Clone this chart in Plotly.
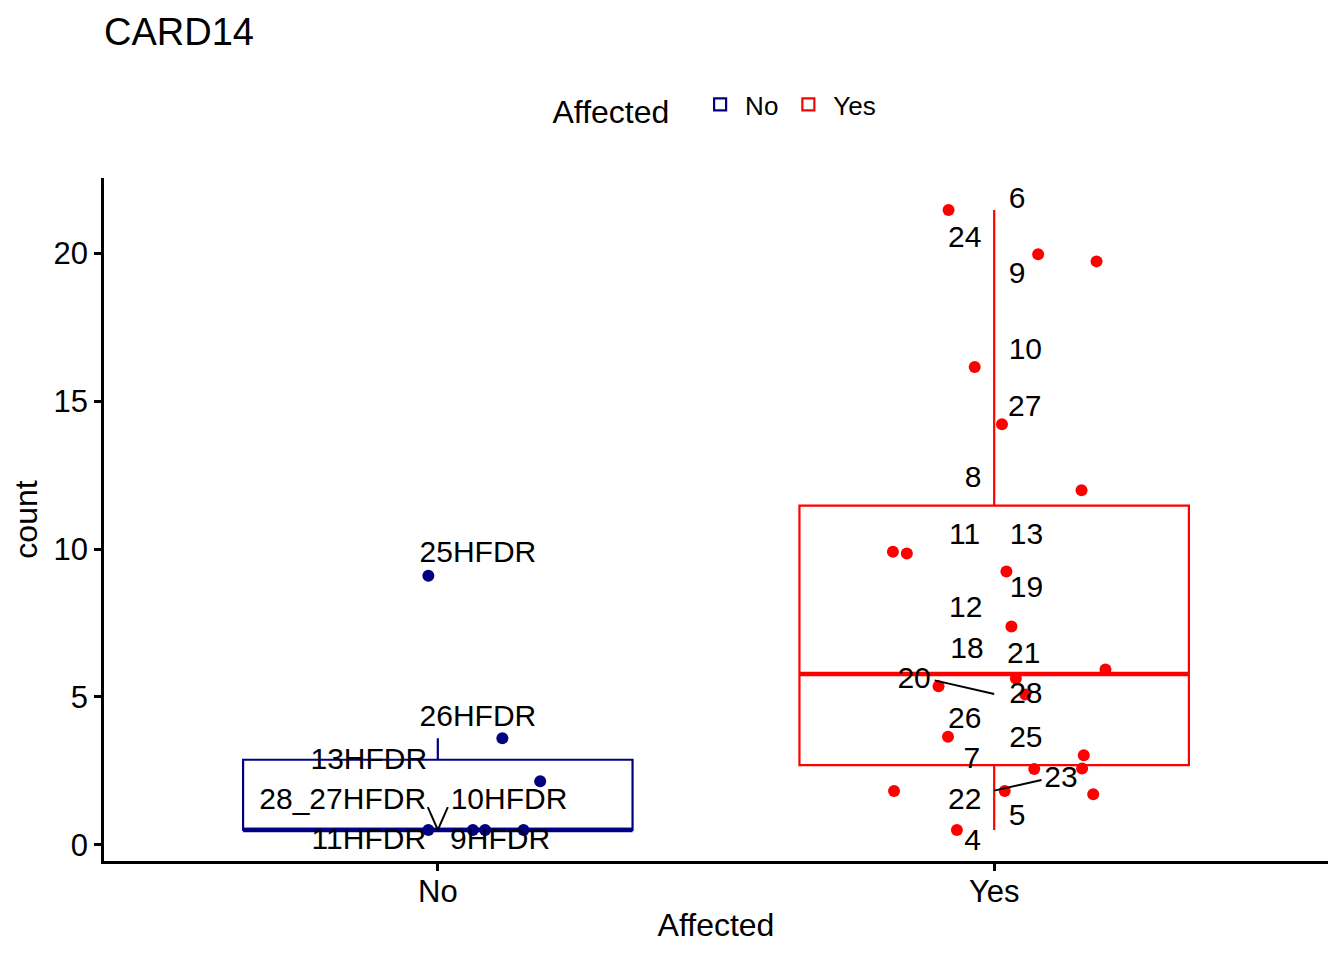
import numpy as np
import plotly.graph_objects as go

# groups on the x axis
groups = ["No", "Yes"]
colors = {"No": "#000080", "Yes": "#FF0000"}

# counts, with the horizontal jitter of each dot
no_y = [9.1, 3.6, 2.15, 0.5, 0.5, 0.5, 0.5]
no_jit = [-0.017, 0.116, 0.184, -0.017, 0.063, 0.085, 0.154]

yes_y = [21.47, 19.97, 19.73, 16.16, 14.22, 11.99, 9.91, 9.85, 9.24, 7.38, 5.93,
         5.62, 5.36, 5.08, 3.65, 3.03, 2.56, 2.58, 1.82, 1.82, 1.71, 0.5]
yes_jit = [-0.082, 0.079, 0.184, -0.035, 0.014, 0.157, -0.182, -0.157, 0.022, 0.031, 0.2,
           0.039, -0.1, 0.056, -0.083, 0.161, 0.072, 0.158, -0.18, 0.019, 0.178, -0.067]

# sample labels (repelled positions, relative to group centre)
no_labels = ["25HFDR", "26HFDR", "13HFDR", "28_27HFDR", "10HFDR", "11HFDR", "9HFDR"]
no_lab_dx = [0.072, 0.072, -0.124, -0.171, 0.128, -0.124, 0.112]
no_lab_y = [9.83, 4.28, 2.81, 1.46, 1.46, 0.12, 0.12]

yes_labels = ["6", "24", "9", "10", "27", "8", "11", "13", "19", "12", "18",
              "21", "20", "28", "26", "25", "7", "23", "22", "5", "4"]
yes_lab_dx = [0.041, -0.053, 0.041, 0.056, 0.055, -0.038, -0.053, 0.058, 0.058, -0.051, -0.049,
              0.053, -0.144, 0.057, -0.053, 0.057, -0.04, 0.12, -0.053, 0.041, -0.039]
yes_lab_y = [21.8, 20.46, 19.24, 16.67, 14.75, 12.35, 10.41, 10.41, 8.62, 7.95, 6.57,
             6.40, 5.56, 5.06, 4.19, 3.57, 2.84, 2.21, 1.45, 0.93, 0.09]

# leader segments: group, start offset, start y, value it points to
lead_group = ["No", "No", "Yes", "Yes"]
lead_dx = [-0.018, 0.018, -0.107, 0.085]
lead_y0 = [1.27, 1.27, 5.56, 2.19]
lead_y1 = [0.5, 0.5, 5.1, 1.83]

data = {
    "No": (no_y, no_jit, no_labels, no_lab_dx, no_lab_y),
    "Yes": (yes_y, yes_jit, yes_labels, yes_lab_dx, yes_lab_y),
}

font = "Liberation Sans, Arial, Helvetica, sans-serif"
box_w = 0.7

# page body has an 8px margin, so the figure is a bit smaller than the window
W, H = 1328, 944

fig = go.Figure()

for i, g in enumerate(groups):
    vals, jit, labs, ldx, ly = data[g]
    v = np.array(vals)
    q1, med, q3 = np.percentile(v, [25, 50, 75])
    iqr = q3 - q1
    lo = v[v >= q1 - 1.5 * iqr].min()
    hi = v[v <= q3 + 1.5 * iqr].max()

    fig.add_trace(go.Box(
        x=[i], q1=[q1], median=[med], q3=[q3], lowerfence=[lo], upperfence=[hi],
        name=g, width=box_w, whiskerwidth=0,
        line=dict(color=colors[g], width=2.2),
        fillcolor="rgba(255,255,255,0)",
        legendgroup=g, showlegend=True,
    ))
    # thicker median like ggplot
    fig.add_trace(go.Scatter(
        x=[i - box_w / 2, i + box_w / 2], y=[med, med], mode="lines",
        line=dict(color=colors[g], width=4.4),
        showlegend=False, hoverinfo="skip", legendgroup=g,
    ))
    fig.add_trace(go.Scatter(
        x=[i + d for d in jit], y=vals, mode="markers",
        marker=dict(color=colors[g], size=12),
        showlegend=False, legendgroup=g,
    ))

# leader segments
for g, dx, y0, y1 in zip(lead_group, lead_dx, lead_y0, lead_y1):
    gi = groups.index(g)
    fig.add_trace(go.Scatter(
        x=[gi + dx, gi], y=[y0, y1], mode="lines",
        line=dict(color="black", width=2),
        showlegend=False, hoverinfo="skip",
    ))

for i, g in enumerate(groups):
    vals, jit, labs, ldx, ly = data[g]
    fig.add_trace(go.Scatter(
        x=[i + d for d in ldx], y=ly, mode="text", text=labs,
        textposition="middle center",
        textfont=dict(family=font, size=30, color="black"),
        showlegend=False, hoverinfo="skip",
    ))

fig.update_layout(
    width=W, height=H,
    margin=dict(l=96, r=8, t=170, b=91),
    plot_bgcolor="white", paper_bgcolor="white",
    font=dict(family=font, color="black", size=30),
    title=dict(text="CARD14", x=96 / W, xanchor="left", xref="container",
               y=1 - 24 / H, yanchor="middle", font=dict(size=38)),
    legend=dict(
        orientation="h", x=0.5, xanchor="center", y=1.104, yanchor="middle",
        title=dict(text="Affected  ", font=dict(size=32)),
        font=dict(size=26),
        itemwidth=40,
    ),
)
fig.update_xaxes(
    range=[-0.6, 1.6], tickvals=[0, 1], ticktext=groups,
    showline=True, linecolor="black", linewidth=2.5,
    ticks="outside", ticklen=7, tickwidth=2.5, tickcolor="black",
    showgrid=False, zeroline=False, ticklabelstandoff=-6,
    title=dict(text="Affected", font=dict(size=32), standoff=6),
    tickfont=dict(size=31),
)
fig.update_yaxes(
    range=[-0.55, 22.55], tickvals=[0, 5, 10, 15, 20],
    showline=True, linecolor="black", linewidth=2.5,
    ticks="outside", ticklen=7, tickwidth=2.5, tickcolor="black",
    showgrid=False, zeroline=False,
    title=dict(text="count", font=dict(size=32), standoff=10),
    tickfont=dict(size=31),
)

fig.write_html("out.html")
